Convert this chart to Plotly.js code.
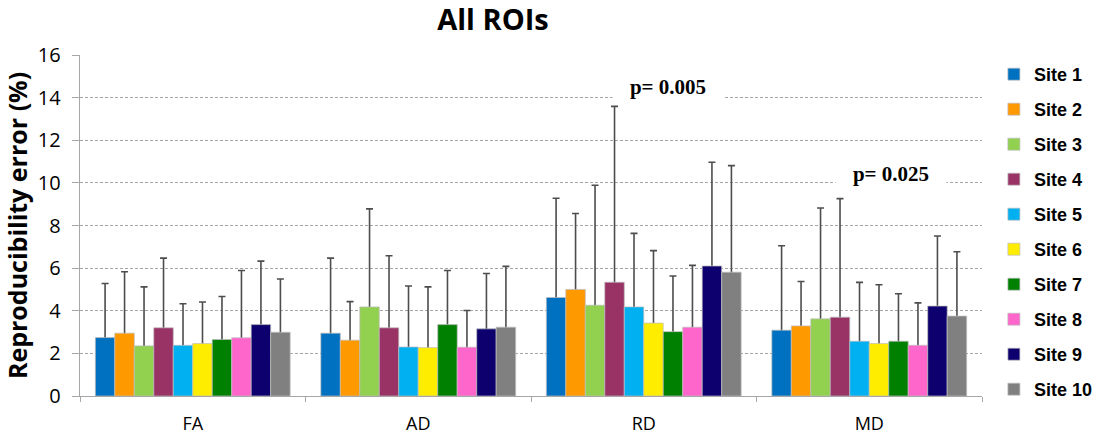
<!DOCTYPE html>
<html>
<head>
<meta charset="utf-8">
<script src="https://cdn.plot.ly/plotly-3.0.1.min.js"></script>
<style>html,body{margin:0;padding:0;background:#fff;}#chart{width:1110px;height:438px;}</style>
</head>
<body>
<div id="chart"></div>
<script>
const categories = ["FA", "AD", "RD", "MD"];
const siteNames = ["Site 1","Site 2","Site 3","Site 4","Site 5","Site 6","Site 7","Site 8","Site 9","Site 10"];
const siteColors = ["#0070C0","#FF9900","#92D050","#993366","#00B0F0","#FFED00","#008000","#FF66CC","#0D006E","#808080"];

// mean reproducibility error per site, order: FA, AD, RD, MD
const site1  = [2.74, 2.95, 4.62, 3.09];
const site2  = [2.95, 2.62, 5.00, 3.29];
const site3  = [2.35, 4.18, 4.26, 3.62];
const site4  = [3.20, 3.20, 5.34, 3.70];
const site5  = [2.38, 2.30, 4.18, 2.57];
const site6  = [2.46, 2.27, 3.42, 2.46];
const site7  = [2.65, 3.35, 3.02, 2.57];
const site8  = [2.73, 2.29, 3.23, 2.38];
const site9  = [3.35, 3.15, 6.10, 4.22];
const site10 = [2.99, 3.23, 5.81, 3.75];

// top of error bar (mean + SD)
const site1Top  = [5.28, 6.47, 9.28, 7.05];
const site2Top  = [5.83, 4.43, 8.56, 5.37];
const site3Top  = [5.12, 8.78, 9.89, 8.82];
const site4Top  = [6.47, 6.58, 13.59, 9.26];
const site5Top  = [4.33, 5.16, 7.63, 5.33];
const site6Top  = [4.41, 5.12, 6.82, 5.22];
const site7Top  = [4.67, 5.89, 5.63, 4.80];
const site8Top  = [5.89, 4.01, 6.13, 4.37];
const site9Top  = [6.33, 5.75, 10.97, 7.51];
const site10Top = [5.49, 6.08, 10.81, 6.77];

const pLabels = ["p= 0.005", "p= 0.025"];
const pCategoryPos = [2.107, 3.098];
const pValuePos = [14.5, 10.42];

const values = [site1,site2,site3,site4,site5,site6,site7,site8,site9,site10];
const tops = [site1Top,site2Top,site3Top,site4Top,site5Top,site6Top,site7Top,site8Top,site9Top,site10Top];

const errTraces = [];
const barTraces = [];
for (let i = 0; i < siteNames.length; i++) {
  const v = values[i];
  const t = tops[i];
  errTraces.push({
    type: "bar", x: categories, y: v, name: siteNames[i],
    offsetgroup: "g" + i, legendgroup: "g" + i, showlegend: false,
    marker: {color: "rgba(0,0,0,0)", line: {width: 0}},
    error_y: {type: "data", symmetric: false,
      array: t.map((tv, k) => tv - v[k]), arrayminus: v.slice(),
      color: "#4d4d4d", thickness: 1.6, width: 3.5},
    hoverinfo: "skip"
  });
  barTraces.push({
    type: "bar", x: categories, y: v, name: siteNames[i],
    offsetgroup: "g" + i, legendgroup: "g" + i,
    marker: {color: siteColors[i], line: {width: 0.8, color: "rgba(190,190,190,0.9)"}},
    hoverinfo: "skip"
  });
}

const annotations = pLabels.map((txt, k) => ({
  xref: "x", yref: "y", x: pCategoryPos[k], y: pValuePos[k],
  text: "<b>" + txt + "</b>", showarrow: false,
  font: {family: "Liberation Serif, Times New Roman, serif", size: 21, color: "#000"},
  bgcolor: "#ffffff", width: 110, height: 28, borderpad: 0,
  xanchor: "center", yanchor: "middle"
}));

const layout = {
  width: 1110, height: 438,
  margin: {l: 80, r: 120, t: 55, b: 42},
  paper_bgcolor: "#fff", plot_bgcolor: "#fff",
  barmode: "group", bargap: 0.136, bargroupgap: 0,
  title: {text: "<b>All ROIs</b>", x: 493/1110, xanchor: "center", y: 1 - 20/438, yanchor: "middle",
    font: {family: "Open Sans, sans-serif", size: 29, color: "#000"}},
  xaxis: {
    type: "category", showgrid: false, zeroline: false,
    showline: true, linecolor: "#a6a6a6", linewidth: 1.3,
    ticks: "outside", ticklen: 5, tickcolor: "#a6a6a6", tickson: "boundaries",
    tickfont: {family: "Open Sans, sans-serif", size: 18, color: "#000"},
    ticklabelstandoff: 11
  },
  yaxis: {
    range: [0, 16], dtick: 2, tick0: 0,
    showgrid: true, gridcolor: "#a6a6a6", griddash: "3px,2px", gridwidth: 1,
    zeroline: false, showline: true, linecolor: "#a6a6a6", linewidth: 1.3,
    ticks: "outside", ticklen: 7, tickcolor: "#a6a6a6",
    tickfont: {family: "Open Sans, sans-serif", size: 20, color: "#000"},
    ticklabelstandoff: 7,
    title: {text: "<b>Reproducibility error (%)</b>", standoff: 10,
      font: {family: "Open Sans, sans-serif", size: 25, color: "#000"}}
  },
  legend: {
    x: (1002 - 80) / 910, xanchor: "left", y: 1 - (56 - 55) / 341, yanchor: "top",
    traceorder: "grouped", tracegroupgap: 8.6, maxheight: 420,
    font: {family: "Liberation Sans, Arial, sans-serif", size: 18, color: "#000", weight: "bold"},
    bgcolor: "rgba(0,0,0,0)"
  },
  annotations: annotations,
  showlegend: true
};

Plotly.newPlot("chart", errTraces.concat(barTraces), layout, {displayModeBar: false, staticPlot: true});
</script>
</body>
</html>
